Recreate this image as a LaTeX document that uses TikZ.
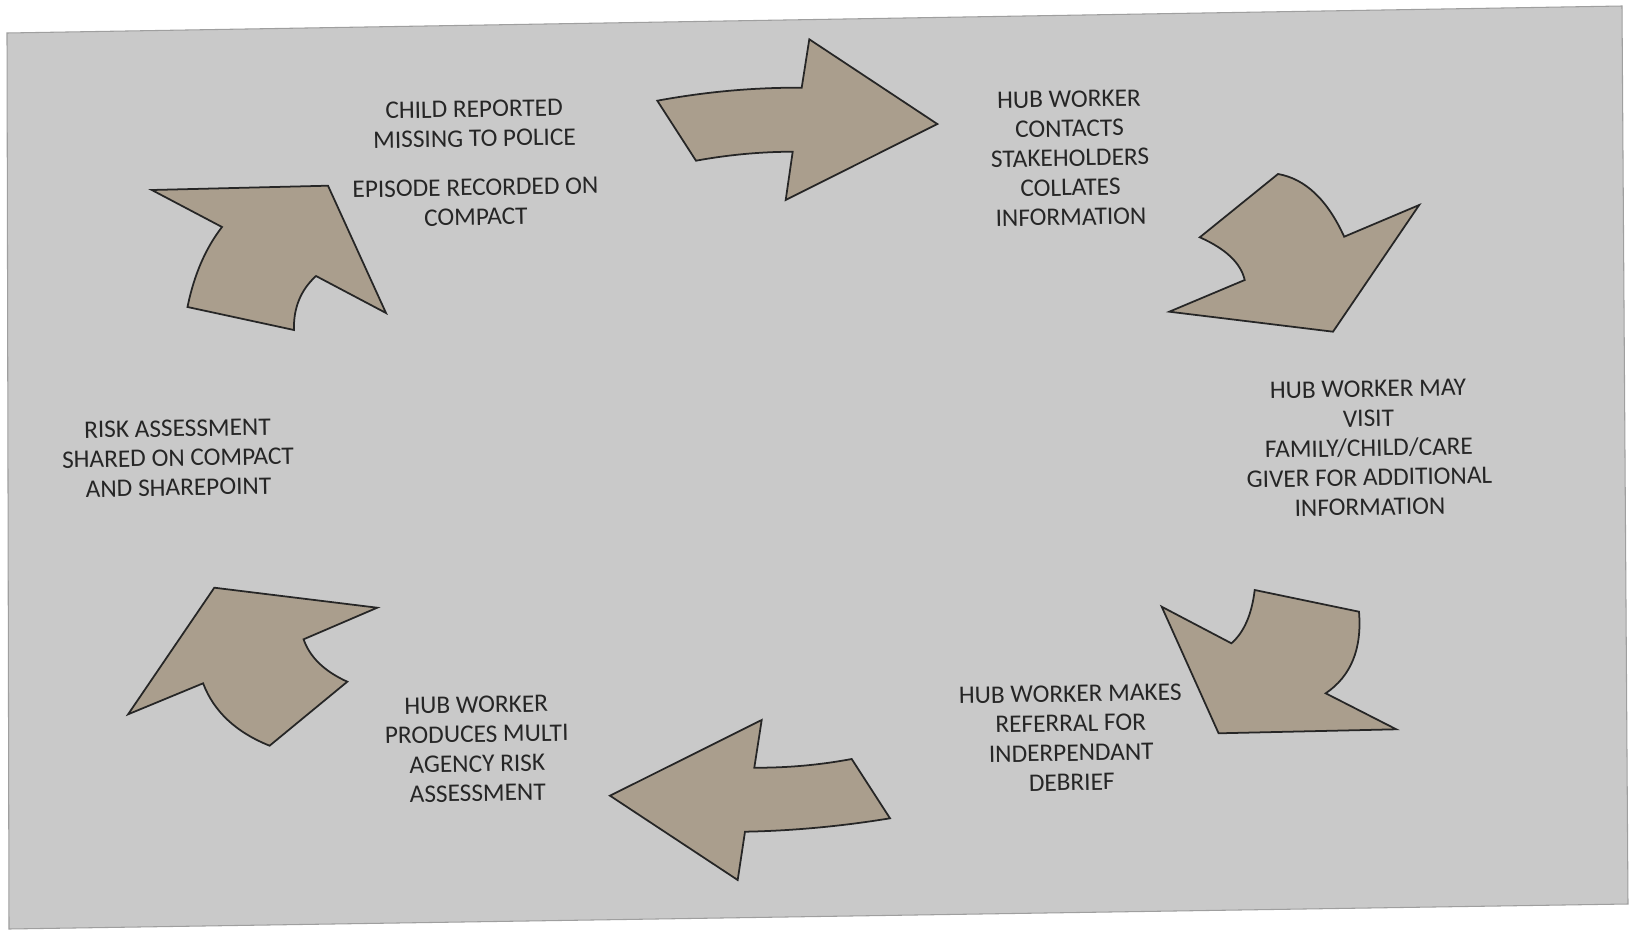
\documentclass[tikz,border=0pt]{standalone}
\usepackage{fontspec}
\setmainfont{Carlito}
\usepackage{xcolor}
\usetikzlibrary{positioning}
\definecolor{panelgray}{RGB}{201,201,201}
\definecolor{arrowtan}{RGB}{170,158,141}
\definecolor{textgray}{RGB}{38,38,38}
\tikzset{
	blockarrow/.style={fill=arrowtan, draw=black!85, line width=0.5pt, line join=miter},
	steptext/.style={align=center, text=textgray, rotate=1, inner sep=0pt, font=\fontsize{7.2}{8.4}\selectfont}
}

\begin{document}
\begin{tikzpicture}[x=0.01cm, y=-0.01cm]
	\useasboundingbox (0,0) rectangle (1629,930);
	% grey panel
	\filldraw[fill=panelgray, draw=gray!75, line width=0.3pt] (7,33) -- (1622,6) -- (1628,904) -- (9,929) -- cycle;
	% block arrows round the cycle
	\filldraw[blockarrow] (151.8,190) -- (328,185.7) -- (386,313) -- (316,276) .. controls (300.7,290) and (293.3,308) .. (294,330) -- (187.5,307) .. controls (194,275) and (205.5,248.3) .. (222,227) -- cycle;
	\filldraw[blockarrow] (657.3,100.7) .. controls (706.1,91.7) and (754.2,87.4) .. (801.7,87.7) -- (809.3,39.3) -- (937.3,124) -- (785.7,200) -- (792.7,151.7) .. controls (760.4,151.8) and (728.2,154.8) .. (696,160.7) -- cycle;
	\filldraw[blockarrow] (1278,174) .. controls (1305.3,178.8) and (1327.3,199.7) .. (1344.2,236.7) -- (1419.2,205) -- (1333,331.7) -- (1169.3,311.7) -- (1244.7,280) .. controls (1240.9,263.2) and (1225.9,248.9) .. (1199.8,237.3) -- cycle;
	\filldraw[blockarrow] (1161.7,606.7) -- (1231.4,643.3) .. controls (1244,632.3) and (1251.8,614.5) .. (1254.7,590) -- (1359,611.7) .. controls (1362.1,648.9) and (1351,676.1) .. (1325.7,693.3) -- (1396.3,729.3) -- (1218.6,733.3) -- cycle;
	\filldraw[blockarrow] (214.3,587.7) -- (377.2,607.7) -- (303.6,639.3) .. controls (309.8,657.2) and (324.4,671.3) .. (347.3,681.7) -- (269.6,745.7) .. controls (235.9,732.2) and (213.7,711.4) .. (203.1,683.3) -- (128.1,714.3) -- cycle;
	\filldraw[blockarrow] (610,795.7) -- (761.7,720) -- (754.3,767.7) .. controls (787.2,767.9) and (819.6,765) .. (851.7,759) -- (890,818.3) .. controls (840.6,826.4) and (792.3,830.8) .. (745,831.7) -- (737.7,880) -- cycle;
	% step texts
	\node[steptext] (reported) at (475,163) {CHILD REPORTED\\MISSING TO POLICE\\[5.5pt]EPISODE RECORDED ON\\COMPACT};
	\node[steptext] (contacts) at (1070,158) {HUB WORKER\\CONTACTS\\STAKEHOLDERS\\COLLATES\\INFORMATION};
	\node[steptext] (visit) at (1369,448) {HUB WORKER MAY\\VISIT\\FAMILY/CHILD/CARE\\GIVER FOR ADDITIONAL\\INFORMATION};
	\node[steptext] (referral) at (1071,738) {HUB WORKER MAKES\\REFERRAL FOR\\INDERPENDANT\\DEBRIEF};
	\node[steptext] (produces) at (477,749) {HUB WORKER\\PRODUCES MULTI\\AGENCY RISK\\ASSESSMENT};
	\node[steptext] (shared) at (178,458) {RISK ASSESSMENT\\SHARED ON COMPACT\\AND SHAREPOINT};
\end{tikzpicture}
\end{document}
